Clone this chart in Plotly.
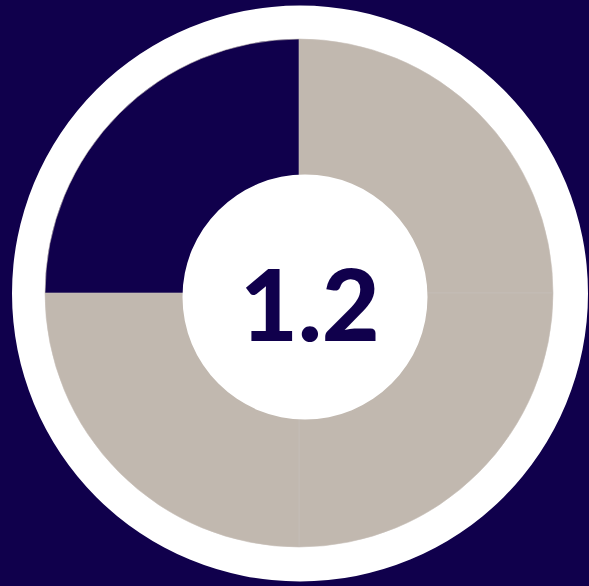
import plotly.graph_objects as go

# Data
labels = ["Q1", "Q2", "Q3", "Q4"]
values = [25, 25, 25, 25]
center_value = "1.2"

NAVY = "#10004C"
GRAY = "#C1B8AF"
WHITE = "#FFFFFF"
slice_colors = [GRAY, GRAY, GRAY, NAVY]

W, H = 589, 586

def px_x(v):
    return v / W

def px_y(v):  # from top in pixels -> paper fraction
    return (H - v) / H

# donut geometry (pixels)
cx, cy, r = 299, 293, 254

fig = go.Figure()
fig.add_trace(go.Pie(
    labels=labels,
    values=values,
    sort=False,
    direction="clockwise",
    rotation=0,
    hole=0,
    marker=dict(colors=slice_colors, line=dict(color="#C8C0B8", width=0.6)),
    textinfo="none",
    hoverinfo="skip",
    showlegend=False,
    domain=dict(x=[px_x(cx - r), px_x(cx + r)], y=[px_y(cy + r), px_y(cy - r)]),
))

shapes = [
    # outer white ring (below the pie)
    dict(type="circle", xref="paper", yref="paper", layer="below",
         x0=px_x(12), x1=px_x(588), y0=px_y(581.5), y1=px_y(5.5),
         fillcolor=WHITE, line=dict(width=0)),
    # inner white hole (above the pie)
    dict(type="circle", xref="paper", yref="paper", layer="above",
         x0=px_x(182.5), x1=px_x(427.5), y0=px_y(419.5), y1=px_y(174.5),
         fillcolor=WHITE, line=dict(width=0)),
]

fig.update_layout(
    width=W, height=H,
    margin=dict(l=0, r=0, t=0, b=0),
    paper_bgcolor=NAVY,
    plot_bgcolor=NAVY,
    shapes=shapes,
    annotations=[dict(
        text=center_value,
        x=px_x(310), y=px_y(302), xref="paper", yref="paper",
        xanchor="center", yanchor="middle", showarrow=False,
        font=dict(family="Lato, Open Sans, sans-serif", size=100, color=NAVY,
                  weight=900),
    )],
)

fig.write_html(
    "out.html",
    config={"displayModeBar": False},
    post_script="document.body.style.margin='0';document.body.style.padding='0';"
                "document.body.style.overflow='hidden';"
                "document.body.style.background='#10004C';",
)
